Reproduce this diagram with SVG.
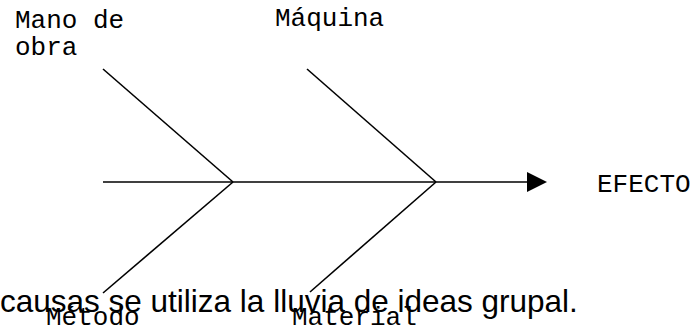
<svg xmlns="http://www.w3.org/2000/svg" width="691" height="331" viewBox="0 0 691 331">
<style>
.ln{stroke:#000;stroke-width:1.6;fill:none}
.lbl{font-family:"Liberation Mono","Courier New",monospace;font-size:26px;fill:#000}
.body{font-family:"Liberation Sans",Arial,sans-serif;font-size:31.5px;fill:#000}
</style>
<rect width="691" height="331" fill="#fff"/>
<g id="connectors">
<line class="ln" x1="103" y1="182" x2="529" y2="182"/>
<polygon points="527,172 547,182 527,192" fill="#000"/>
<line class="ln" x1="103" y1="69" x2="233" y2="182"/>
<line class="ln" x1="307" y1="69" x2="436" y2="182"/>
<line class="ln" x1="233" y1="182" x2="103" y2="293"/>
<line class="ln" x1="436" y1="182" x2="310" y2="292"/>
</g>
<g id="body-text"><text class="body" x="0" y="312">causas se utiliza la lluvia de ideas grupal.</text></g>
<g id="node-mano"><text class="lbl" x="15" y="28">Mano de</text><text class="lbl" x="15" y="55">obra</text></g>
<g id="node-maquina"><text class="lbl" x="275" y="26">Máquina</text></g>
<g id="node-metodo"><text class="lbl" x="46" y="325">Método</text></g>
<g id="node-material"><text class="lbl" x="292" y="325">Material</text></g>
<g id="node-efecto"><text class="lbl" x="597" y="192">EFECTO</text></g>
</svg>
